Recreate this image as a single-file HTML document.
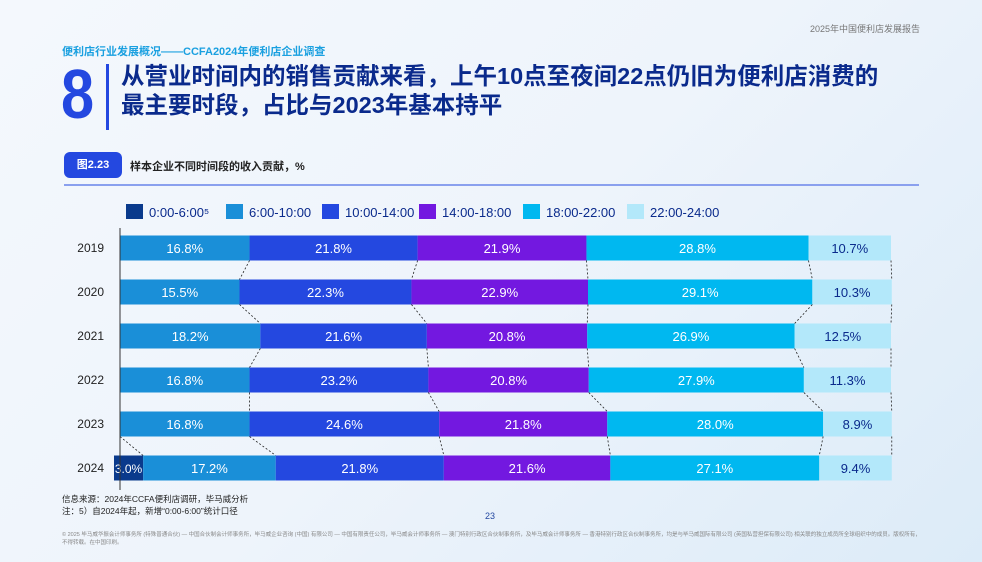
<!DOCTYPE html>
<html><head><meta charset="utf-8"><style>
body{margin:0;width:982px;height:562px;overflow:hidden;font-family:"Liberation Sans","Noto Sans CJK SC",sans-serif;background:linear-gradient(135deg,#f4f8fd 0%,#eef4fb 50%,#dcebf8 100%);position:relative}
.a{position:absolute;white-space:nowrap}
</style></head><body>
<div class="a" style="right:62px;top:22px;font-size:9px;color:#777">2025年中国便利店发展报告</div>
<div class="a" style="left:62px;top:43px;font-size:11px;font-weight:bold;color:#1aa0e0">便利店行业发展概况——CCFA2024年便利店企业调查</div>
<div class="a" style="left:61px;top:58px;font-size:70px;font-weight:bold;color:#2448e0;line-height:72px;transform:scaleX(0.85);transform-origin:left">8</div>
<div class="a" style="left:106px;top:64px;width:3px;height:66px;background:#2448e0"></div>
<div class="a" style="left:121px;top:62px;font-size:23.5px;font-weight:bold;color:#0a2a8c;line-height:29px">从营业时间内的销售贡献来看，上午10点至夜间22点仍旧为便利店消费的<br>最主要时段，占比与2023年基本持平</div>
<div class="a" style="left:64px;top:152px;width:58px;height:26px;border-radius:6px;background:#2448e0;color:#fff;font-size:11px;font-weight:bold;line-height:26px;text-align:center">图2.23</div>
<div class="a" style="left:130px;top:158px;font-size:11px;font-weight:bold;color:#222">样本企业不同时间段的收入贡献，%</div>
<div class="a" style="left:64px;top:184px;width:855px;height:2px;background:#8aa0ee"></div>
<svg class="a" style="left:0;top:0" width="982" height="562" id="c"></svg>
<div class="a" style="left:62px;top:493px;font-size:8.5px;color:#222;line-height:12px">信息来源：2024年CCFA便利店调研，毕马威分析<br>注：5）自2024年起，新增“0:00-6:00”统计口径</div>
<div class="a" style="left:485px;top:511px;font-size:9px;color:#2448a0">23</div>
<div class="a" style="left:62px;top:531px;font-size:5.5px;color:#888;line-height:8px;white-space:normal;width:860px">© 2025 毕马威华振会计师事务所 (特殊普通合伙) — 中国合伙制会计师事务所，毕马威企业咨询 (中国) 有限公司 — 中国有限责任公司，毕马威会计师事务所 — 澳门特别行政区合伙制事务所，及毕马威会计师事务所 — 香港特别行政区合伙制事务所，均是与毕马威国际有限公司 (英国私营担保有限公司) 相关联的独立成员所全球组织中的成员。版权所有，不得转载。在中国印刷。</div>
<script>
const years=["2019","2020","2021","2022","2023","2024"];
const seriesNames=["0:00-6:00","6:00-10:00","10:00-14:00","14:00-18:00","18:00-22:00","22:00-24:00"];
const s0=[0,0,0,0,0,3.0];
const s1=[16.8,15.5,18.2,16.8,16.8,17.2];
const s2=[21.8,22.3,21.6,23.2,24.6,21.8];
const s3=[21.9,22.9,20.8,20.8,21.8,21.6];
const s4=[28.8,29.1,26.9,27.9,28.0,27.1];
const s5=[10.7,10.3,12.5,11.3,8.9,9.4];
const colors=["#0a3a8c","#1a8fd8","#2448e0","#7318e0","#00b8f0","#b3e8fa"];
const series=[s0,s1,s2,s3,s4,s5];
const svg=document.getElementById('c');const NS="http://www.w3.org/2000/svg";
const x0=120,W=771,y0=248,step=44,bh=25;
const X=v=>x0+v/100*W, Y=i=>y0+i*step;
function mk(t,a,p){const e=document.createElementNS(NS,t);for(const k in a)e.setAttribute(k,a[k]);(p||svg).appendChild(e);return e;}
let lx=126;
seriesNames.forEach((n,j)=>{const g=mk('g',{});


mk('rect',{x:lx,y:204,width:17,height:15,fill:colors[j]},g);
const t=mk('text',{x:lx+23,y:217,'font-size':13,fill:'#0a2a8c'},g);t.textContent=n+(j==0?'⁵':'');
lx+=[100,96,97,104,104,100][j];});
const cums=years.map((y,i)=>{let c=0;return series.map(s=>(c+=s[i]));});
years.forEach((yr,i)=>{
 const t=mk('text',{x:104,y:Y(i)+4,'font-size':12,fill:'#222','text-anchor':'end'});t.textContent=yr;
 
 
 let c=0;
 series.forEach((s,j)=>{const v=s[i];if(v<=0)return;
  const small=v<5;
  const rx=small?X(c)-6:X(c);
  const r=mk('rect',{x:rx,y:Y(i)-bh/2,width:X(c+v)-rx,height:bh,fill:colors[j]});
  
  
  const tx=mk('text',{x:(rx+X(c+v))/2,y:Y(i)+5,'font-size':small?12:13,fill:j==5?'#0a2a8c':'#fff','text-anchor':'middle'});
  tx.textContent=v.toFixed(1)+'%';
  c+=v;});
 if(i<years.length-1){
  for(let j=0;j<6;j++){
   const a=cums[i][j],b=cums[i+1][j];
   if(j<5&&series[j][i]===0&&series[j][i+1]===0)continue;
   const l=mk('line',{x1:X(a),y1:Y(i)+bh/2,x2:X(b),y2:Y(i+1)-bh/2,stroke:'#222','stroke-width':0.8,'stroke-dasharray':'2,2'});
   
   
  }
 }
});
const ax=mk('line',{x1:x0,y1:228,x2:x0,y2:490,stroke:'#333','stroke-width':1});


</script>
</body></html>
